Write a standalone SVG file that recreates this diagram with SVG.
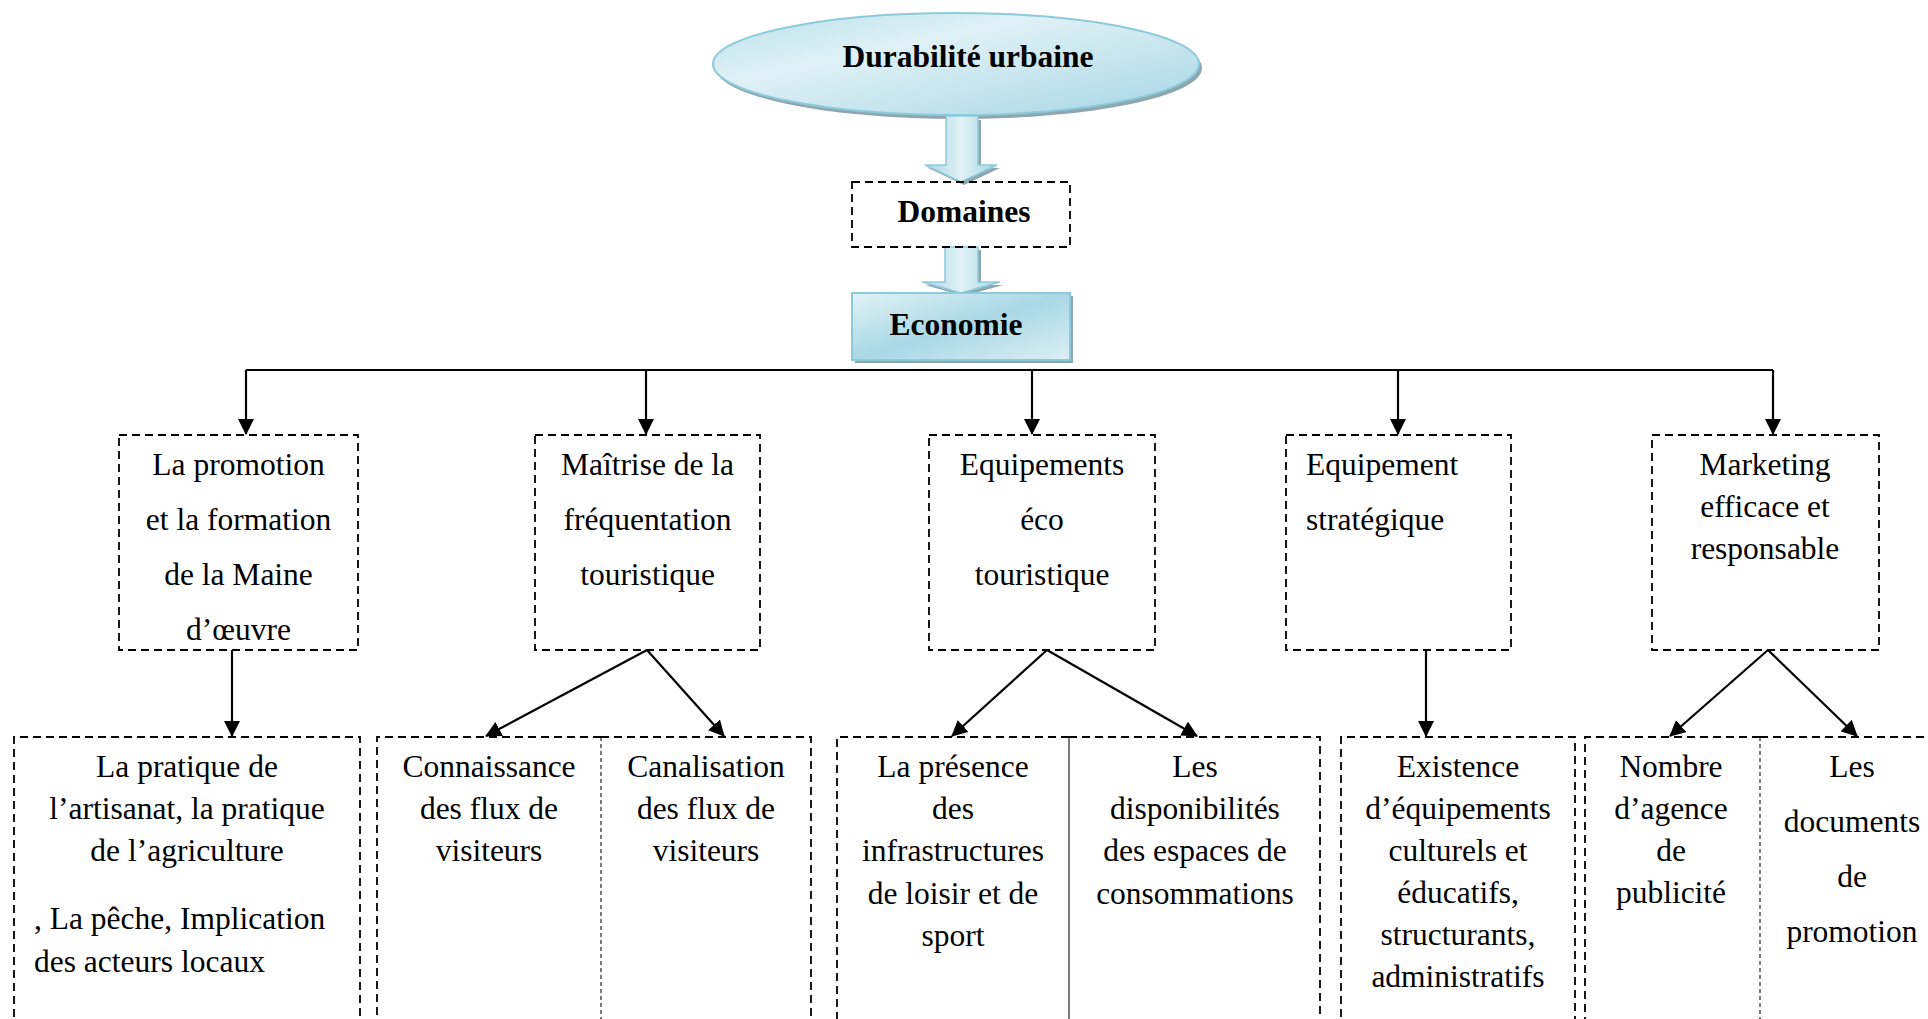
<svg xmlns="http://www.w3.org/2000/svg" width="1928" height="1019" viewBox="0 0 1928 1019">
  <defs>
    <linearGradient id="gEll" x1="0" y1="0" x2="1" y2="1">
      <stop offset="0" stop-color="#b9e0ea"/>
      <stop offset="0.35" stop-color="#e0f1f6"/>
      <stop offset="1" stop-color="#a6d6e3"/>
    </linearGradient>
    <linearGradient id="gBox" x1="0" y1="0" x2="1" y2="1">
      <stop offset="0" stop-color="#e2f2f6"/>
      <stop offset="0.5" stop-color="#a9d8e4"/>
      <stop offset="1" stop-color="#dceff4"/>
    </linearGradient>
    <linearGradient id="gArr" x1="0" y1="0" x2="1" y2="0">
      <stop offset="0" stop-color="#a4d4e1"/>
      <stop offset="0.5" stop-color="#e2f2f6"/>
      <stop offset="1" stop-color="#a4d4e1"/>
    </linearGradient>
    <marker id="ah" viewBox="0 0 16 16" refX="15" refY="8" markerUnits="userSpaceOnUse" markerWidth="16" markerHeight="16" orient="auto">
      <path d="M0,0 L16,8 L0,16 Z" fill="#000"/>
    </marker>
    <style>
      .t { font-family: "Liberation Serif", "Times New Roman", serif; font-size: 31.5px; fill: #000; }
      .c { text-anchor: middle; }
      .b { font-weight: bold; }
      .dash { fill: none; stroke: #000; stroke-width: 1.8; stroke-dasharray: 8 5; }
      .thin { fill: none; stroke: #222; stroke-width: 1.2; stroke-dasharray: 4 3; }
      .conn { fill: none; stroke: #000; stroke-width: 2.2; marker-end: url(#ah); }
      .shadow { fill: #8ea6ae; }
      .blue { stroke: #8dcbdc; stroke-width: 2; }
    </style>
  </defs>
  <rect width="1928" height="1019" fill="#fff"/>

  <!-- Top ellipse -->
  <g id="durabilite">
    <ellipse class="shadow" cx="959" cy="68" rx="243" ry="51"/>
    <ellipse cx="956" cy="64" rx="243" ry="51" fill="url(#gEll)" class="blue"/>
    <text class="t b c" x="968" y="67">Durabilité urbaine</text>
  </g>

  <!-- Block arrows -->
  <g id="blockarrows">
    <path class="shadow" d="M949,120 H981 V168 H1000 L964,185 L928,168 H949 Z"/>
    <path d="M946,116 H978 V165 H997 L961,182 L925,165 H946 Z" fill="url(#gArr)" stroke="#8dcbdc" stroke-width="1.5"/>
    <path class="shadow" d="M948,250 H981 V285 H1003 L964,296 L925,285 H948 Z"/>
    <path d="M945,247 H978 V282 H1000 L961,293 L922,282 H945 Z" fill="url(#gArr)" stroke="#8dcbdc" stroke-width="1.5"/>
  </g>

  <g id="domaines">
    <rect class="dash" x="852" y="182" width="218" height="65"/>
    <text class="t b c" x="964" y="222">Domaines</text>
  </g>

  <g id="economie">
    <rect class="shadow" x="855" y="296" width="218" height="67"/>
    <rect x="852" y="293" width="218" height="67" fill="url(#gBox)" class="blue"/>
    <text class="t b c" x="956" y="335">Economie</text>
  </g>

  <!-- Connectors -->
  <g id="connectors">
    <path d="M246,370 H1773" fill="none" stroke="#000" stroke-width="2.2"/>
    <path class="conn" d="M246,370 V434"/>
    <path class="conn" d="M646,370 V434"/>
    <path class="conn" d="M1032,370 V434"/>
    <path class="conn" d="M1398,370 V434"/>
    <path class="conn" d="M1773,370 V434"/>
    <path class="conn" d="M232,650 V736"/>
    <path class="conn" d="M647,650 L486,736"/>
    <path class="conn" d="M647,650 L724,736"/>
    <path class="conn" d="M1047,650 L952,736"/>
    <path class="conn" d="M1047,650 L1197,736"/>
    <path class="conn" d="M1426,650 V736"/>
    <path class="conn" d="M1768,650 L1670,736"/>
    <path class="conn" d="M1768,650 L1857,736"/>
  </g>

  <!-- Row 1 -->
  <g id="promotion">
    <rect class="dash" x="119" y="435" width="239" height="215"/>
    <text class="t c" x="238.5" y="475">La promotion</text>
    <text class="t c" x="238.5" y="530">et la formation</text>
    <text class="t c" x="238.5" y="585">de la Maine</text>
    <text class="t c" x="238.5" y="640">d’œuvre</text>
  </g>
  <g id="maitrise">
    <rect class="dash" x="535" y="435" width="225" height="215"/>
    <text class="t c" x="647.5" y="475">Maîtrise de la</text>
    <text class="t c" x="647.5" y="530">fréquentation</text>
    <text class="t c" x="647.5" y="585">touristique</text>
  </g>
  <g id="equipements-eco">
    <rect class="dash" x="929" y="435" width="226" height="215"/>
    <text class="t c" x="1042" y="475">Equipements</text>
    <text class="t c" x="1042" y="530">éco</text>
    <text class="t c" x="1042" y="585">touristique</text>
  </g>
  <g id="equipement-strategique">
    <rect class="dash" x="1286" y="435" width="225" height="215"/>
    <text class="t" x="1306" y="475">Equipement</text>
    <text class="t" x="1306" y="530">stratégique</text>
  </g>
  <g id="marketing">
    <rect class="dash" x="1652" y="435" width="227" height="215"/>
    <text class="t c" x="1765" y="475">Marketing</text>
    <text class="t c" x="1765" y="517">efficace et</text>
    <text class="t c" x="1765" y="559">responsable</text>
  </g>

  <!-- Row 2 -->
  <g id="pratique">
    <path class="dash" d="M14,1030 V737 H360 V1030"/>
    <text class="t c" x="187" y="777">La pratique de</text>
    <text class="t c" x="187" y="819">l’artisanat, la pratique</text>
    <text class="t c" x="187" y="861">de l’agriculture</text>
    <text class="t" x="34" y="929">, La pêche, Implication</text>
    <text class="t" x="34" y="972">des acteurs locaux</text>
  </g>
  <g id="connaissance">
    <path class="dash" d="M601,737 H377 V1030"/>
    <path class="thin" d="M601,737 V1030"/>
    <text class="t c" x="489" y="777">Connaissance</text>
    <text class="t c" x="489" y="819">des flux de</text>
    <text class="t c" x="489" y="861">visiteurs</text>
  </g>
  <g id="canalisation">
    <path class="dash" d="M601,737 H811 V1030"/>
    <text class="t c" x="706" y="777">Canalisation</text>
    <text class="t c" x="706" y="819">des flux de</text>
    <text class="t c" x="706" y="861">visiteurs</text>
  </g>
  <g id="presence">
    <path class="dash" d="M1069,737 H837 V1030"/>
    <path d="M1069,737 V1030" fill="none" stroke="#222" stroke-width="1.2"/>
    <text class="t c" x="953" y="777">La présence</text>
    <text class="t c" x="953" y="819">des</text>
    <text class="t c" x="953" y="861">infrastructures</text>
    <text class="t c" x="953" y="904">de loisir et de</text>
    <text class="t c" x="953" y="946">sport</text>
  </g>
  <g id="disponibilites">
    <path class="dash" d="M1069,737 H1320 V1030"/>
    <text class="t c" x="1195" y="777">Les</text>
    <text class="t c" x="1195" y="819">disponibilités</text>
    <text class="t c" x="1195" y="861">des espaces de</text>
    <text class="t c" x="1195" y="904">consommations</text>
  </g>
  <g id="existence">
    <path class="dash" d="M1341,1030 V737 H1575 V1030"/>
    <text class="t c" x="1458" y="777">Existence</text>
    <text class="t c" x="1458" y="819">d’équipements</text>
    <text class="t c" x="1458" y="861">culturels et</text>
    <text class="t c" x="1458" y="903">éducatifs,</text>
    <text class="t c" x="1458" y="945">structurants,</text>
    <text class="t c" x="1458" y="987">administratifs</text>
  </g>
  <g id="nombre">
    <path class="dash" d="M1760,737 H1585 V1030"/>
    <path class="thin" d="M1760,737 V1030"/>
    <text class="t c" x="1671" y="777">Nombre</text>
    <text class="t c" x="1671" y="819">d’agence</text>
    <text class="t c" x="1671" y="861">de</text>
    <text class="t c" x="1671" y="903">publicité</text>
  </g>
  <g id="documents">
    <path class="dash" d="M1760,737 H1940"/>
    <text class="t c" x="1852" y="777">Les</text>
    <text class="t c" x="1852" y="832">documents</text>
    <text class="t c" x="1852" y="887">de</text>
    <text class="t c" x="1852" y="942">promotion</text>
  </g>
</svg>
